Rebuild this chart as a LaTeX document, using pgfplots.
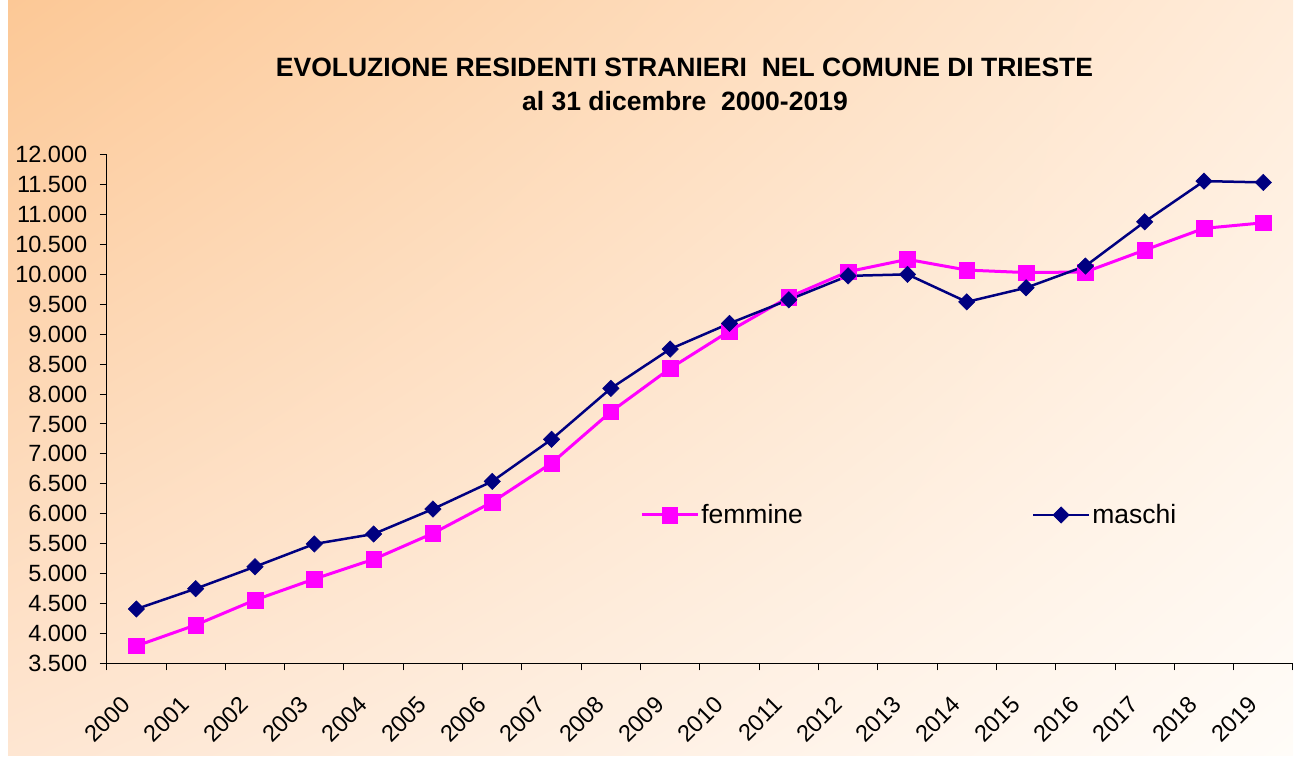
\documentclass[border=0pt]{standalone}
\usepackage{fontspec}
\setmainfont{Liberation Sans}
\usepackage{pgfplots}
\usetikzlibrary{shadings}
\pgfplotsset{compat=1.18}
\definecolor{fem}{RGB}{255,0,255}
\definecolor{mas}{RGB}{0,0,128}
\definecolor{bgUL}{RGB}{252,200,150}
\definecolor{bgUR}{RGB}{255,236,218}
\definecolor{bgLL}{RGB}{254,230,210}
\definecolor{bgLR}{RGB}{255,252,248}
\begin{document}
\begin{tikzpicture}
\path[use as bounding box] (0pt,0pt) rectangle (1299pt,758pt);
\shade[upper left=bgUL, upper right=bgUR, lower left=bgLL, lower right=bgLR] (8pt,3pt) rectangle (1293pt,758pt);
\node[anchor=base, font=\fontsize{26.5}{30}\selectfont\bfseries, inner sep=0pt] at (684.5pt,681.3pt) {EVOLUZIONE RESIDENTI STRANIERI\ \ NEL COMUNE DI TRIESTE};
\node[anchor=base, font=\fontsize{26.5}{30}\selectfont\bfseries, inner sep=0pt] at (685pt,647pt) {al 31 dicembre\ \ 2000-2019};
\begin{axis}[
  at={(106.7pt,94.7pt)}, anchor=south west,
  scale only axis, width=1186.3pt, height=508.6pt,
  xmin=-0.5, xmax=19.5, ymin=3500, ymax=12000,
  axis x line*=bottom, axis y line*=left,
  axis line style={black, line width=1.2pt},
  xtick={-0.5,0.5,1.5,2.5,3.5,4.5,5.5,6.5,7.5,8.5,9.5,10.5,11.5,12.5,13.5,14.5,15.5,16.5,17.5,18.5,19.5},
  xticklabels={2000,2001,2002,2003,2004,2005,2006,2007,2008,2009,2010,2011,2012,2013,2014,2015,2016,2017,2018,2019},
  x tick label as interval,
  ytick={3500,4000,...,12000},
  scaled y ticks=false,
  tick align=outside, major tick length=7pt,
  tick style={black, line width=1pt},
  tick label style={font=\fontsize{23.5}{26}\selectfont},
  /pgf/number format/assume math mode=true,
  /pgf/number format/1000 sep={.},
  y tick label style={xshift=-9pt},
  x tick label style={xshift=-8pt, yshift=-28pt, rotate=45, anchor=east},
  legend style={draw=none, fill=none, at={(0.4496,0.2916)}, anchor=west, inner sep=0pt,
    font=\fontsize{26.5}{30}\selectfont,
    /tikz/every even column/.append style={column sep=227pt}},
  legend columns=2,
  legend image code/.code={\draw[mark repeat=2,mark phase=2] plot coordinates {(0pt,0pt) (28pt,0pt) (56pt,0pt)};},
]
\addplot[color=fem, line width=3pt, mark=square*, mark size=7.8pt, mark options={solid, fill=fem, line width=0.5pt}]
  coordinates {(0,3790) (1,4140) (2,4558) (3,4909) (4,5238) (5,5672) (6,6195) (7,6845) (8,7704) (9,8429) (10,9053) (11,9620) (12,10045) (13,10251) (14,10072) (15,10030) (16,10040) (17,10406) (18,10769) (19,10862)};
\addlegendentry{femmine}
\addplot[color=mas, line width=2.5pt, mark=square*, mark size=5.8pt, mark options={solid, fill=mas, line width=0.5pt, rotate=45}]
  coordinates {(0,4407) (1,4747) (2,5114) (3,5494) (4,5661) (5,6078) (6,6541) (7,7243) (8,8095) (9,8752) (10,9181) (11,9575) (12,9975) (13,10000) (14,9540) (15,9776) (16,10139) (17,10879) (18,11559) (19,11537)};
\addlegendentry{maschi}
\end{axis}
\end{tikzpicture}
\end{document}
